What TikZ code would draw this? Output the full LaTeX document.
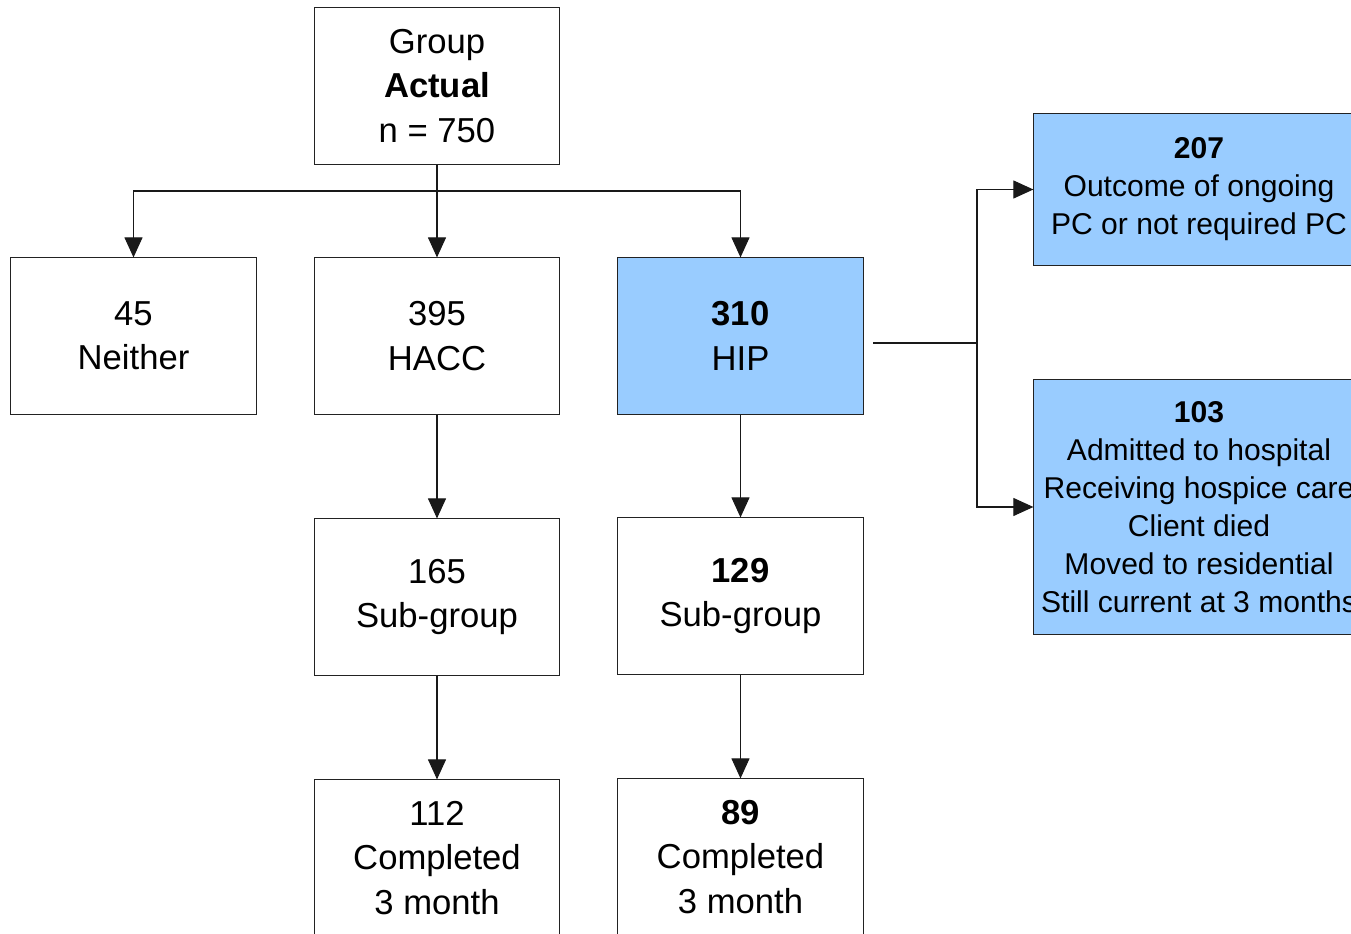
\documentclass[tikz,border=0pt]{standalone}
\usepackage{fontspec}
\setmainfont{Liberation Sans}
\usetikzlibrary{arrows.meta}
\definecolor{hipblue}{HTML}{99CCFF}
\definecolor{edge}{HTML}{222222}
\tikzset{
  box/.style={draw=edge, line width=0.3pt, minimum width=2.45cm, minimum height=1.56cm,
    inner sep=0pt, align=center, font=\fontsize{9.85}{12.6}\selectfont},
  bluebox/.style={box, fill=hipblue},
  sidebox/.style={draw=edge, line width=0.3pt, fill=hipblue, minimum width=3.3cm,
    inner sep=0pt, align=center, font=\fontsize{8.55}{10.8}\selectfont},
  conn/.style={draw=black!90, line width=0.3pt},
  arr/.style={conn, -{Triangle[length=0.2cm, width=0.18cm]}}
}
\begin{document}
\begin{tikzpicture}[x=0.01cm, y=-0.01cm]
\useasboundingbox (0,0) rectangle (1351,934);
\clip (0,0) rectangle (1351,934);

\node[box, minimum width=2.44cm] (top) at (437,86) {Group\\\textbf{Actual}\\n = 750};
\node[box] (neither) at (133.5,336) {45\\Neither};
\node[box] (hacc) at (437,336) {395\\HACC};
\node[bluebox] (hip) at (740.5,336) {\textbf{310}\\HIP};
\node[box] (sub1) at (437,597) {165\\Sub-group};
\node[box] (sub2) at (740.5,596) {\textbf{129}\\Sub-group};
\node[box] (comp1) at (437,858) {112\\Completed\\3 month};
\node[box] (comp2) at (740.5,857) {\textbf{89}\\Completed\\3 month};
\node[sidebox, minimum height=1.51cm] (r1) at (1199,189.5)
  {\textbf{207}\\Outcome of ongoing\\PC or not required PC};
\node[sidebox, minimum height=2.54cm] (r2) at (1199,507)
  {\textbf{103}\\Admitted to hospital\\Receiving hospice care\\Client died\\Moved to residential\\Still current at 3 months};

% top fan-out
\coordinate (bus) at (437,191);
\draw[conn] (top.south) -- (bus);
\draw[arr] (bus) -- (hacc.north);
\draw[arr] (bus) -| (neither.north);
\draw[arr] (bus) -| (hip.north);

% columns
\draw[arr] (hacc.south) -- (sub1.north);
\draw[arr] (hip.south) -- (sub2.north);
\draw[arr] (sub1.south) -- (comp1.north);
\draw[arr] (sub2.south) -- (comp2.north);

% HIP to right boxes
\coordinate (hipout) at (873,343);
\coordinate (split) at (977,343);
\draw[conn] (hipout) -- (split);
\draw[arr] (split) |- (r1.west);
\draw[arr] (split) |- (r2.west);
\end{tikzpicture}
\end{document}
